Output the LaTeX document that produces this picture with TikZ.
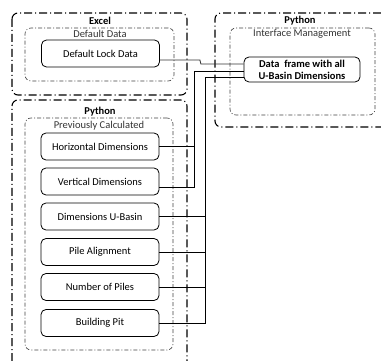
\documentclass[tikz,border=0pt]{standalone}
\usepackage{fontspec}
\setmainfont{Carlito}
\begin{document}
\begin{tikzpicture}[x=1pt,y=-1pt,
  outerline/.style={line width=1.1pt, dash pattern=on 8pt off 3pt on 1pt off 3pt, rounded corners=6pt},
  innerbox/.style={draw=black!75, line width=0.6pt, dash pattern=on 4pt off 2pt on 1pt off 2pt, rounded corners=6pt, inner sep=0pt, outer sep=0pt},
  itembox/.style={draw, rounded corners=5pt, minimum width=118pt, minimum height=27pt, line width=0.8pt, inner sep=0pt, font=\fontsize{10.5}{12}\selectfont},
  title/.style={font=\fontsize{10.5}{12}\selectfont\bfseries},
  sublabel/.style={font=\fontsize{10.5}{12}\selectfont, text=black!80},
  wire/.style={line width=0.8pt}]
\useasboundingbox (0,0) rectangle (381,361);
% containers
\draw[outerline] (12,13) rectangle (187,95);
\draw[outerline] (12,361) -- (12,100) -- (187,100) -- (187,361);
\draw[outerline] (381,13) -- (215,13) -- (215,127) -- (381,127);
\node[innerbox, minimum width=149pt, minimum height=53pt] (dd) at (99.5,54.5) {};
\node[innerbox, minimum width=148pt, minimum height=232pt] (pc) at (99,234) {};
\node[innerbox, minimum width=145pt, minimum height=87pt] (im) at (302.5,71.5) {};
% labels
\node[title] (lexcel) at (100,21) {Excel};
\node[sublabel] (ldd) at (100,34) {Default Data};
\node[title] (lpy1) at (100,112) {Python};
\node[sublabel] (lpc) at (99,126) {Previously Calculated};
\node[title] (lpy2) at (300,21) {Python};
\node[sublabel] (lim) at (302,34) {Interface Management};
% items
\node[itembox] (dl) at (100.5,53.5) {Default Lock Data};
\node[itembox] (hd) at (100,146.5) {Horizontal Dimensions};
\node[itembox] (vd) at (100,181.5) {Vertical Dimensions};
\node[itembox] (ub) at (100,216.5) {Dimensions U-Basin};
\node[itembox] (pa) at (100,252) {Pile Alignment};
\node[itembox] (np) at (100,287) {Number of Piles};
\node[itembox] (bp) at (100,323) {Building Pit};
\node[itembox, minimum width=116pt, minimum height=25pt, align=center, font=\fontsize{10.5}{12}\selectfont\bfseries] (df) at (302,69.5) {Data\ \ frame with all\\U-Basin Dimensions};
% wires
\draw[wire, black!80] ([yshift=-6.5pt]dl.east) -- ++(40,0) -- ++(1,4) -- ([yshift=5.5pt]df.west);
\draw[wire] ([yshift=-1.5pt]df.west) -- (194,71) -- (194,187) -- ([yshift=-5.5pt]vd.east);
\draw[wire] (hd.east) -- (194,146.5);
\draw[wire] ([yshift=-7.5pt]df.west) -- (205,77) -- (205,323) -- (bp.east);
\draw[wire] (ub.east) -- (205,216.5);
\draw[wire] (pa.east) -- (205,252);
\draw[wire] (np.east) -- (205,287);
\end{tikzpicture}
\end{document}
